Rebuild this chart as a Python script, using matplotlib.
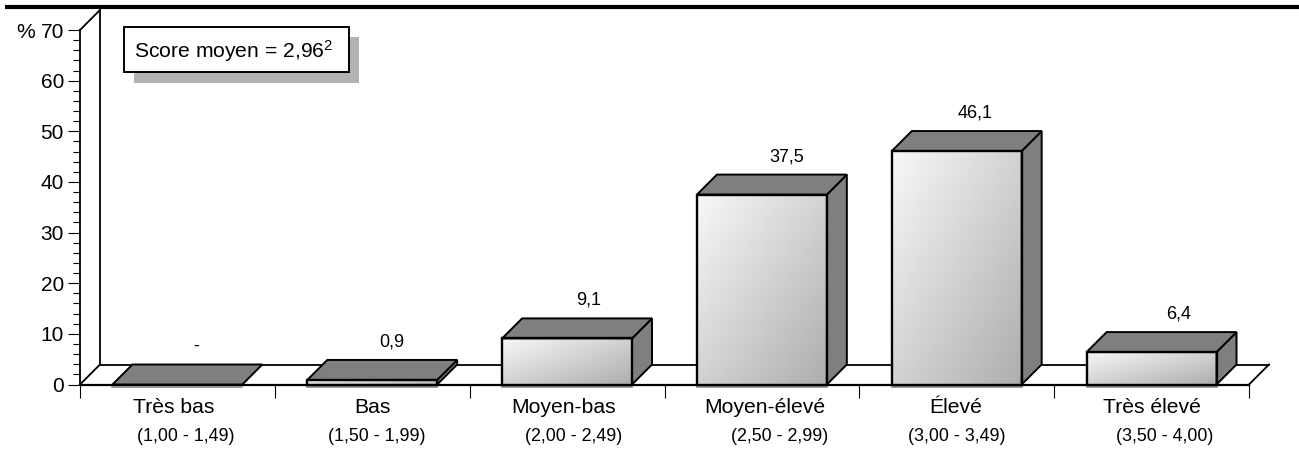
import matplotlib
matplotlib.use("Agg")
from matplotlib import pyplot as plt
from matplotlib.patches import Polygon, Rectangle
from matplotlib.ticker import MultipleLocator
import numpy as np

plt.rcParams['font.family'] = ['Liberation Sans', 'DejaVu Sans']
plt.rcParams['mathtext.fontset'] = 'custom'
plt.rcParams['mathtext.rm'] = 'Liberation Sans'
plt.rcParams['mathtext.default'] = 'regular'

categories = ['Très bas', 'Bas', 'Moyen-bas', 'Moyen-élevé', 'Élevé', 'Très élevé']
ranges = ['(1,00 - 1,49)', '(1,50 - 1,99)', '(2,00 - 2,49)', '(2,50 - 2,99)', '(3,00 - 3,49)', '(3,50 - 4,00)']
values = [0, 0.9, 9.1, 37.5, 46.1, 6.4]
value_labels = ['-', '0,9', '9,1', '37,5', '46,1', '6,4']

W, H = 1299, 465
fig = plt.figure(figsize=(W / 100, H / 100), dpi=100)
left, right, y0, y70 = 80, 1249, 384.5, 30
ax = fig.add_axes([left / W, 1 - y0 / H, (right - left) / W, (y0 - y70) / H])

# depth of the fake 3d box, in data units
dx = 20 / 195
dy = 20 / ((y0 - y70) / 70)
bar_w = 130 / 195

# gradient used on every bar front
gx, gy = np.meshgrid(np.linspace(0, 1, 60), np.linspace(0, 1, 60))
shade = 0.97 - 0.29 * (gx + gy) / 2

# the labels are not quite centred in the original
value_shift = [19, 19.5, 21.5, 24.5, 18.5, 27.5]
cat_shift = [-4, 0, -4, 2.5, -1.5, 0]
range_shift = [8, 4.5, 7, 17.5, 0, 13]

for i, v in enumerate(values):
    x0 = i + 0.5 - bar_w / 2
    x1 = x0 + bar_w
    if v > 0:
        ax.imshow(shade, extent=(x0, x1, 0, v), origin='upper', cmap='gray', vmin=0, vmax=1,
                  aspect='auto', zorder=3, clip_on=False)
        ax.add_patch(Rectangle((x0, 0), bar_w, v, fill=False, ec='black', lw=1.7, zorder=5, clip_on=False))
        ax.add_patch(Polygon([(x1, 0), (x1 + dx, dy), (x1 + dx, v + dy), (x1, v)], fc='#7f7f7f', ec='black',
                             lw=1.4, zorder=3, clip_on=False, joinstyle='miter'))
    ax.add_patch(Polygon([(x0, v), (x1, v), (x1 + dx, v + dy), (x0 + dx, v + dy)], fc='#7f7f7f', ec='black',
                         lw=1.4, zorder=4, clip_on=False, joinstyle='miter'))
    ax.plot([x0, x1], [-0.4, -0.4], color='#8c8c8c', lw=1.2, zorder=2, clip_on=False)
    ax.annotate(value_labels[i], (i + 0.5, v + dy), (value_shift[i], 18), textcoords='offset pixels',
                ha='center', va='center', fontsize=13, annotation_clip=False)

ax.set_xlim(0, 6)
ax.set_ylim(0, 70)

# walls and floor
ax.plot([dx, dx], [dy, 70 + dy], color='black', lw=1.3, clip_on=False, zorder=1)
ax.plot([0, dx], [70, 70 + dy], color='black', lw=1.3, clip_on=False, zorder=1)
ax.plot([0, dx], [0, dy], color='black', lw=1.3, clip_on=False, zorder=1)
ax.plot([dx, 6 + dx], [dy, dy], color='black', lw=1.3, clip_on=False, zorder=1)
ax.plot([6, 6 + dx], [0, dy], color='black', lw=1.3, clip_on=False, zorder=1)

for side in ['top', 'right']:
    ax.spines[side].set_visible(False)
ax.spines['left'].set_linewidth(1.3)
ax.spines['bottom'].set_linewidth(1.6)
ax.patch.set_alpha(0)

ax.yaxis.set_major_locator(MultipleLocator(10))
ax.yaxis.set_minor_locator(MultipleLocator(2))
ax.tick_params(axis='y', which='major', length=8.6, width=0.8, labelsize=15, pad=3)
ax.tick_params(axis='y', which='minor', length=5, width=0.8)
ax.set_xticks(np.arange(7))
ax.set_xticklabels([])
ax.tick_params(axis='x', length=9, width=0.8)

for i, (c, r) in enumerate(zip(categories, ranges)):
    ax.annotate(c, (i + 0.5, 0), (cat_shift[i], -23), textcoords='offset pixels', ha='center', va='center',
                fontsize=15.2, annotation_clip=False)
    ax.annotate(r, (i + 0.5, 0), (range_shift[i], -52), textcoords='offset pixels', ha='center', va='center',
                fontsize=12.9, annotation_clip=False)

fig.text(16 / W, 1 - 32 / H, '%', fontsize=15.2, ha='left', va='center')

# score box with its shadow
fig.patches.append(Rectangle((134 / W, 1 - 83 / H), 225 / W, 46 / H, transform=fig.transFigure, fc='#b2b2b2', ec='none'))
fig.patches.append(Rectangle((123.5 / W, 1 - 72 / H), 225 / W, 45 / H, transform=fig.transFigure, fc='white',
                             ec='black', lw=1.4))
fig.text(133.5 / W, 1 - 51.5 / H, 'Score moyen = 2,96$^{2}$', fontsize=15.2, ha='left', va='center')

# rule under the cropped title
fig.add_artist(plt.Line2D([5 / W, 1], [1 - 7 / H] * 2, color='black', lw=3, solid_capstyle='butt'))

fig.savefig('out.png', dpi=100)
